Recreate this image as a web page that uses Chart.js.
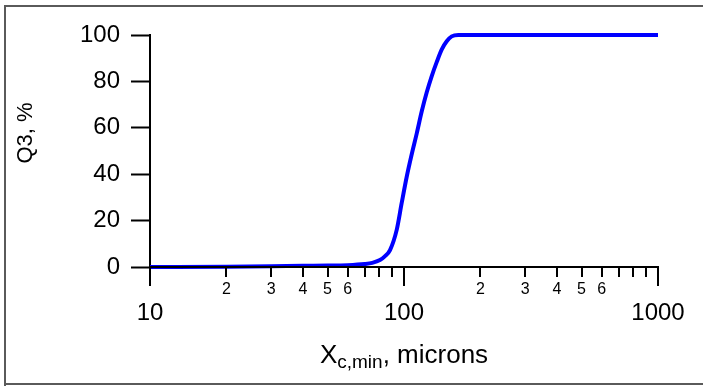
<!DOCTYPE html>
<html>
<head>
<meta charset="utf-8">
<script src="https://cdn.jsdelivr.net/npm/chart.js@4.4.0/dist/chart.umd.min.js"></script>
<style>
  html, body { margin: 0; padding: 0; background: #fff; }
  canvas { display: block; }
</style>
</head>
<body>
<canvas id="myChart" width="703" height="386"></canvas>
<script>
// particle size (microns) and cumulative passing Q3 (%)
const sizes = [10, 20, 30, 40, 50, 60, 70, 75, 80.4, 84, 88.1, 93.6, 97.9, 102.5, 107.2, 112.2, 117.4, 122.9, 128.5, 134.5, 140.7, 147.3, 154.1, 163.6, 200, 1000];
const q3 = [0, 0.1, 0.3, 0.5, 0.6, 0.8, 1.3, 1.8, 3.0, 4.6, 7.3, 16, 27.5, 38.9, 48.5, 57.5, 67, 75.3, 82.2, 88.3, 93.7, 97.3, 99.4, 100, 100, 100];

const xMajorTicks = [10, 100, 1000];
const xMinorTicks = [20, 30, 40, 50, 60, 70, 80, 90, 200, 300, 400, 500, 600, 700, 800, 900];
const xMinorLabelled = [2, 3, 4, 5, 6];
const yTicks = [0, 20, 40, 60, 80, 100];

const FONT = 'Arial, "Liberation Sans", sans-serif';

// axes ticks/labels/titles + frame
const decor = {
    id: 'decor',
    afterDraw(chart) {
        const ctx = chart.ctx;
        const xs = chart.scales.x;
        const area = chart.chartArea;
        const y0 = area.bottom;
        ctx.save();

        // frame
        ctx.strokeStyle = '#5a5a5a';
        ctx.lineWidth = 2;
        ctx.beginPath();
        ctx.moveTo(5, 386);
        ctx.lineTo(5, 6);
        ctx.lineTo(703, 6);
        ctx.moveTo(5, 384);
        ctx.lineTo(703, 384);
        ctx.stroke();

        // x axis line and ticks
        ctx.strokeStyle = '#000';
        ctx.lineWidth = 2;
        ctx.beginPath();
        ctx.moveTo(area.left, y0);
        ctx.lineTo(area.right + 1, y0);
        xMajorTicks.forEach(v => {
            const px = Math.round(xs.getPixelForValue(v));
            ctx.moveTo(px, y0);
            ctx.lineTo(px, y0 + 19);
        });
        xMinorTicks.forEach(v => {
            const px = Math.round(xs.getPixelForValue(v));
            ctx.moveTo(px, y0);
            ctx.lineTo(px, y0 + 10);
        });
        ctx.stroke();

        // x labels
        ctx.fillStyle = '#000';
        ctx.textAlign = 'center';
        ctx.textBaseline = 'middle';
        ctx.font = '24px ' + FONT;
        xMajorTicks.forEach(v => {
            ctx.fillText(String(v), xs.getPixelForValue(v), y0 + 46);
        });
        ctx.font = '16px ' + FONT;
        xMinorTicks.forEach(v => {
            const d = v / Math.pow(10, Math.floor(Math.log10(v)));
            if (xMinorLabelled.includes(Math.round(d))) {
                ctx.fillText(String(Math.round(d)), xs.getPixelForValue(v), y0 + 23);
            }
        });

        // x title with subscript
        ctx.textAlign = 'left';
        ctx.textBaseline = 'alphabetic';
        const big = '26px ' + FONT, small = '19px ' + FONT;
        ctx.font = big;
        const wX = ctx.measureText('X').width;
        const wRest = ctx.measureText(', microns').width;
        ctx.font = small;
        const wSub = ctx.measureText('c,min').width;
        let tx = (area.left + area.right) / 2 - (wX + wSub + wRest) / 2;
        const base = 363;
        ctx.font = big;
        ctx.fillText('X', tx, base);
        tx += wX;
        ctx.font = small;
        ctx.fillText('c,min', tx, base + 5);
        tx += wSub;
        ctx.font = big;
        ctx.fillText(', microns', tx, base);

        // y title
        ctx.translate(26, 133);
        ctx.rotate(-Math.PI / 2);
        ctx.font = '22px ' + FONT;
        ctx.textAlign = 'center';
        ctx.textBaseline = 'middle';
        ctx.fillText('Q3, %', 0, 0);
        ctx.restore();
    }
};

window.addEventListener('load', function() {
    let ctx = document.getElementById('myChart').getContext('2d');
    new Chart(ctx, {
        type: 'line',
        data: {
            datasets: [{
                data: sizes.map((s, i) => ({ x: s, y: q3[i] })),
                borderColor: '#0000ff',
                borderWidth: 4,
                pointRadius: 0,
                cubicInterpolationMode: 'monotone',
                clip: false,
                fill: false
            }]
        },
        options: {
            responsive: false,
            animation: false,
            layout: { padding: { left: 0, top: 35, right: 45, bottom: 0 } },
            plugins: { legend: { display: false }, tooltip: { enabled: false } },
            scales: {
                x: {
                    type: 'logarithmic',
                    min: 10,
                    max: 1000,
                    grid: { display: false },
                    border: { display: false },
                    ticks: { display: false },
                    afterFit: s => { s.height = 119; }
                },
                y: {
                    min: 0,
                    max: 100,
                    afterBuildTicks: s => { s.ticks = yTicks.map(v => ({ value: v })); },
                    grid: { drawOnChartArea: false, tickLength: 19, tickWidth: 2, tickColor: '#000' },
                    border: { color: '#000', width: 2 },
                    ticks: { color: '#000', font: { size: 24, family: FONT }, padding: 11 },
                    afterFit: s => { s.width = 150; }
                }
            }
        },
        plugins: [decor]
    });
});
</script>
</body>
</html>
